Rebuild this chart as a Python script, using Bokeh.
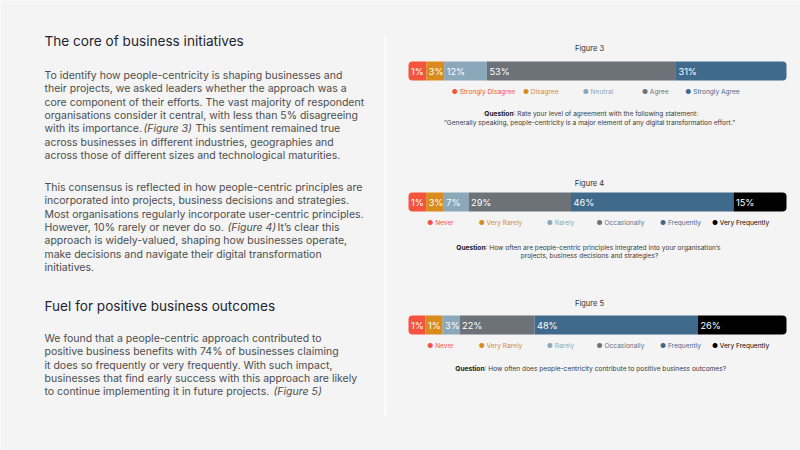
from bokeh.plotting import figure
from bokeh.models import Range1d
from bokeh.core.properties import value
from bokeh.embed import file_html
from bokeh.resources import INLINE

FONT = "Inter"

# ---- survey data -------------------------------------------------------
agree_categories = ["Strongly Disagree", "Disagree", "Neutral", "Agree", "Strongly Agree"]
fig3_values = [1, 3, 12, 53, 31]

freq_categories = ["Never", "Very Rarely", "Rarely", "Occasionally", "Frequently", "Very Frequently"]
fig4_values = [1, 3, 7, 29, 46, 15]
fig5_values = [1, 1, 3, 22, 48, 26]

agree_colors = ["#f4533e", "#d98b1d", "#8ba7ba", "#6c7278", "#3f6a8c"]
freq_colors = ["#f4533e", "#d98b1d", "#8ba7ba", "#6c7278", "#3f6a8c", "#000000"]

# ---- page text ---------------------------------------------------------
title_1 = "The core of business initiatives"
title_2 = "Fuel for positive business outcomes"

para_1 = [
    "To identify how people-centricity is shaping businesses and",
    "their projects, we asked leaders whether the approach was a",
    "core component of their efforts. The vast majority of respondent",
    "organisations consider it central, with less than 5% disagreeing",
    None,
    "across businesses in different industries, geographies and",
    "across those of different sizes and technological maturities.",
]
para_1_mixed = ("with its importance.", "(Figure 3)", "This sentiment remained true")

para_2 = [
    "This consensus is reflected in how people-centric principles are",
    "incorporated into projects, business decisions and strategies.",
    "Most organisations regularly incorporate user-centric principles.",
    None,
    "approach is widely-valued, shaping how businesses operate,",
    "make decisions and navigate their digital transformation",
    "initiatives.",
]
para_2_mixed = ("However, 10% rarely or never do so.", "(Figure 4)", "It\u2019s clear this")

para_3 = [
    "We found that a people-centric approach contributed to",
    "positive business benefits with 74% of businesses claiming",
    "it does so frequently or very frequently. With such impact,",
    "businesses that find early success with this approach are likely",
    None,
]
para_3_mixed = ("to continue implementing it in future projects.", "(Figure 5)", "")

questions = [
    (": Rate your level of agreement with the following statement:",
     "\u201cGenerally speaking, people-centricity is a major element of any digital transformation effort.\u201d"),
    (": How often are people-centric principles integrated into your organisation\u2019s",
     "projects, business decisions and strategies?"),
    (": How often does people-centricity contribute to positive business outcomes?", None),
]
figure_titles = ["Figure 3", "Figure 4", "Figure 5"]

# ---- canvas ------------------------------------------------------------
W, H = 800, 450
BG = "#f4f4f4"
p = figure(width=W, height=H, x_range=Range1d(0, W), y_range=Range1d(H, 0),
           output_backend="svg", toolbar_location=None, min_border=0)
p.axis.visible = False
p.grid.visible = False
p.outline_line_color = None
p.background_fill_color = BG
p.border_fill_color = BG

# thin divider between the two columns
p.segment(x0=[385], y0=[35], x1=[385], y1=[415], line_color="white", line_width=1.5)

BODY = "#4d4d4d"
HEAD = "#1d2530"
BODY_SIZE = "10.5px"
LEAD = 13.35
X0 = 44


def heading(txt, y):
    p.text(x=[X0], y=[y], text=[txt], text_font=value(FONT), text_font_size="13.6px",
           text_color=HEAD, text_baseline="middle", text_align="left")


def paragraph(lines, mixed, mixed_x, y0):
    ys = [y0 + i * LEAD for i in range(len(lines))]
    plain = [(l, y) for l, y in zip(lines, ys) if l is not None]
    p.text(x=[X0] * len(plain), y=[y for _, y in plain], text=[l for l, _ in plain],
           text_font=value(FONT), text_font_size=BODY_SIZE, text_color=BODY,
           text_baseline="middle", text_align="left")
    ym = ys[lines.index(None)]
    pre, ital, post = mixed
    p.text(x=[X0], y=[ym], text=[pre], text_font=value(FONT), text_font_size=BODY_SIZE,
           text_color=BODY, text_baseline="middle", text_align="left")
    p.text(x=[mixed_x[0]], y=[ym], text=[ital], text_font=value(FONT), text_font_size=BODY_SIZE,
           text_font_style="italic", text_color=BODY, text_baseline="middle", text_align="left")
    if post:
        p.text(x=[mixed_x[1]], y=[ym], text=[post], text_font=value(FONT), text_font_size=BODY_SIZE,
               text_color=BODY, text_baseline="middle", text_align="left")


heading(title_1, 40)
paragraph(para_1, para_1_mixed, (143, 195), 75)
paragraph(para_2, para_2_mixed, (227, 277), 187)
heading(title_2, 305)
paragraph(para_3, para_3_mixed, (273, None), 338)

# ---- stacked bars ------------------------------------------------------
BAR_L, BAR_R = 408, 786
BAR_H = 19
MIN_SHARE = 5.0  # smallest segment keeps room for its label
CX = 589


def stacked(name, vals, colors, cats, yc, legend_span, fig_title, question, y_title, y_legend, y_q):
    shown = [max(v, MIN_SHARE) for v in vals]
    total = sum(shown)
    per_px = total / (BAR_R - BAR_L)
    p.extra_x_ranges[name] = Range1d(-BAR_L * per_px, (W - BAR_L) * per_px)
    lefts, rights, acc = [], [], 0.0
    for s in shown:
        lefts.append(acc)
        acc += s
        rights.append(acc)
    n = len(vals)
    r = 4
    p.hbar(y=[yc], left=lefts[:1], right=rights[:1], height=BAR_H, fill_color=colors[:1],
           line_color=None, x_range_name=name, border_radius=(r, 0, 0, r))
    p.hbar(y=[yc] * (n - 2), left=lefts[1:-1], right=rights[1:-1], height=BAR_H,
           fill_color=colors[1:-1], line_color=None, x_range_name=name)
    p.hbar(y=[yc], left=lefts[-1:], right=rights[-1:], height=BAR_H, fill_color=colors[-1:],
           line_color=None, x_range_name=name, border_radius=(0, r, r, 0))
    p.text(x=lefts, y=[yc + 0.5] * n, text=[f"{v}%" for v in vals], x_range_name=name,
           x_offset=2.5, text_font=value(FONT), text_font_size="9.2px", text_color="white",
           text_baseline="middle", text_align="left")

    # caption above the bar
    p.text(x=[CX], y=[y_title], text=[fig_title], text_font=value(FONT), text_font_size="7.5px",
           text_color="#333333", text_baseline="middle", text_align="center")

    # legend row: equal cells between the first and last centre
    a, b = legend_span
    step = (b - a) / (n - 1)
    xs = [a + i * step for i in range(n)]
    p.text(x=xs, y=[y_legend] * n, text=["\u25cf " + c for c in cats], text_color=colors,
           text_font=value(FONT), text_font_size="6.6px", text_baseline="middle",
           text_align="center")

    # question below
    split_x, rest, second = question
    p.text(x=[split_x], y=[y_q], text=["Question"], text_font=value(FONT), text_font_size="6.6px",
           text_font_style="bold", text_color="#1a1a1a", text_baseline="middle", text_align="right")
    p.text(x=[split_x], y=[y_q], text=[rest], text_font=value(FONT), text_font_size="6.6px",
           text_color="#3a3a3a", text_baseline="middle", text_align="left")
    if second:
        p.text(x=[CX], y=[y_q + 8.5], text=[second], text_font=value(FONT), text_font_size="6.6px",
               text_color="#3a3a3a", text_baseline="middle", text_align="center")


stacked("f3", fig3_values, agree_colors, agree_categories, 70.5, (483, 712),
        figure_titles[0], (513, *questions[0]), 48, 91, 113.5)
stacked("f4", fig4_values, freq_colors, freq_categories, 201.5, (440, 740),
        figure_titles[1], (485, *questions[1]), 182.5, 222.5, 247)
stacked("f5", fig5_values, freq_colors, freq_categories, 324.5, (440, 740),
        figure_titles[2], (484, *questions[2]), 302.5, 345.5, 368.5)

open("out.html", "w").write(file_html(p, INLINE))
